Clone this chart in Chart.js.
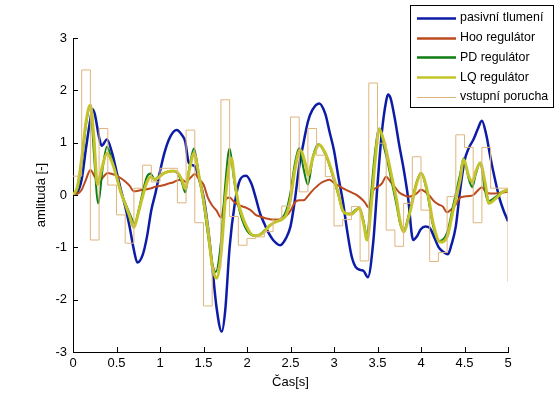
<!DOCTYPE html>
<html>
<head>
<meta charset="utf-8">
<script src="https://cdn.jsdelivr.net/npm/chart.js@4/dist/chart.umd.min.js"></script>
<style>
  html, body { margin: 0; padding: 0; background: #ffffff; }
  #wrap { width: 560px; height: 395px; position: relative; }
</style>
</head>
<body>
<div id="wrap"><canvas id="c" width="560" height="395"></canvas></div>
<script>
// ---------- data ----------
const seriesNames = ['pasivní tlumení', 'Hoo regulátor', 'PD regulátor', 'LQ regulátor', 'vstupní porucha'];
const xTickStep = 0.5;
const yTickStep = 1;

// pasivní tlumení  [time s, amplitude]
const pasivni = [[0,0],[0.05,0.05],[0.1,0.3],[0.15,0.9],[0.2,1.45],[0.225,1.64],[0.25,1.55],[0.3,1.1],[0.33,0.94],[0.39,1.06],
  [0.45,0.8],[0.5,0.45],[0.55,0.1],[0.6,-0.22],[0.65,-0.6],[0.7,-1.05],[0.74,-1.29],[0.8,-1.15],[0.85,-0.8],[0.9,-0.29],
  [0.95,0.05],[1.0,0.45],[1.05,0.8],[1.1,1.05],[1.15,1.2],[1.19,1.24],[1.25,1.15],[1.29,1.02],[1.33,0.62],[1.4,0.55],
  [1.45,0.3],[1.5,-0.03],[1.55,-0.6],[1.6,-1.35],[1.65,-2.15],[1.71,-2.61],[1.75,-2.2],[1.8,-1.0],[1.86,-0.16],[1.92,0.29],
  [1.99,0.37],[2.05,0.22],[2.1,-0.05],[2.15,-0.35],[2.2,-0.55],[2.25,-0.73],[2.3,-0.86],[2.38,-0.96],[2.45,-0.82],[2.5,-0.6],
  [2.55,-0.1],[2.6,0.55],[2.65,1.0],[2.7,1.4],[2.75,1.62],[2.83,1.75],[2.9,1.55],[2.95,1.2],[3.0,0.85],[3.05,0.35],
  [3.1,-0.1],[3.15,-0.67],[3.2,-1.15],[3.25,-1.38],[3.3,-1.43],[3.34,-1.45],[3.39,-1.57],[3.45,-0.92],[3.5,0.2],[3.55,1.2],
  [3.6,1.8],[3.62,1.92],[3.65,1.85],[3.7,1.45],[3.75,0.95],[3.8,0.5],[3.85,-0.03],[3.91,-0.86],[3.95,-0.8],[4.0,-0.65],
  [4.05,-0.6],[4.1,-0.63],[4.15,-0.8],[4.2,-0.99],[4.25,-1.08],[4.31,-1.13],[4.35,-0.95],[4.4,-0.6],[4.45,0.1],[4.5,0.65],
  [4.55,0.9],[4.6,1.05],[4.65,1.25],[4.7,1.42],[4.75,1.15],[4.8,0.7],[4.85,0.3],[4.9,-0.05],[4.95,-0.3],[5.0,-0.5]];

// Hoo regulátor
const hoo = [[0,0],[0.05,0.02],[0.1,0.1],[0.15,0.3],[0.2,0.48],[0.25,0.35],[0.3,0.25],[0.35,0.35],[0.4,0.42],[0.45,0.4],
  [0.5,0.37],[0.55,0.32],[0.6,0.26],[0.65,0.18],[0.7,0.07],[0.75,0.08],[0.8,0.1],[0.85,0.11],[0.9,0.13],[0.95,0.16],
  [1.0,0.17],[1.05,0.19],[1.1,0.22],[1.15,0.24],[1.2,0.28],[1.25,0.29],[1.3,0.25],[1.35,0.33],[1.4,0.4],[1.45,0.3],
  [1.5,0.2],[1.55,-0.05],[1.6,-0.2],[1.65,-0.3],[1.7,-0.43],[1.75,-0.1],[1.8,-0.05],[1.85,-0.13],[1.9,-0.19],[1.95,-0.22],
  [2.0,-0.25],[2.05,-0.3],[2.1,-0.38],[2.15,-0.41],[2.2,-0.44],[2.25,-0.46],[2.3,-0.47],[2.35,-0.47],[2.4,-0.44],[2.45,-0.4],
  [2.5,-0.3],[2.55,-0.14],[2.6,-0.1],[2.65,-0.1],[2.7,-0.02],[2.75,0.08],[2.8,0.16],[2.85,0.23],[2.9,0.27],[2.95,0.29],
  [3.0,0.23],[3.05,0.18],[3.1,0.13],[3.15,0.09],[3.2,0.05],[3.25,0.01],[3.3,-0.05],[3.35,-0.13],[3.4,-0.24],[3.45,0.08],
  [3.5,0.15],[3.55,0.22],[3.6,0.35],[3.65,0.25],[3.7,0.15],[3.75,0.05],[3.8,0.0],[3.85,-0.03],[3.9,-0.02],[3.95,0.03],
  [4.0,0.1],[4.05,0.06],[4.1,-0.02],[4.15,-0.12],[4.2,-0.18],[4.25,-0.22],[4.3,-0.33],[4.35,-0.27],[4.4,-0.18],[4.45,-0.05],
  [4.5,-0.03],[4.55,-0.02],[4.6,0.0],[4.65,0.08],[4.7,0.15],[4.75,0.05],[4.8,0.03],[4.85,0.03],[4.9,0.04],[4.95,0.05],[5.0,0.06]];

// PD regulátor
const pd = [[0,0],[0.05,0.1],[0.1,0.6],[0.15,1.35],[0.2,1.7],[0.24,0.8],[0.29,-0.16],[0.34,0.5],[0.39,0.92],[0.45,0.65],
  [0.5,0.35],[0.55,0.05],[0.6,-0.15],[0.65,-0.35],[0.71,-0.54],[0.76,-0.25],[0.8,0.05],[0.85,0.35],[0.89,0.41],[0.94,0.3],
  [1.0,0.38],[1.05,0.42],[1.1,0.45],[1.15,0.46],[1.2,0.42],[1.25,0.25],[1.29,0.05],[1.34,0.55],[1.39,0.89],[1.45,0.35],
  [1.5,-0.15],[1.55,-0.75],[1.6,-1.3],[1.64,-1.47],[1.7,-0.9],[1.75,0.2],[1.8,0.89],[1.85,0.3],[1.9,-0.2],[1.95,-0.5],
  [2.0,-0.68],[2.05,-0.76],[2.1,-0.78],[2.15,-0.75],[2.2,-0.68],[2.25,-0.6],[2.3,-0.54],[2.35,-0.5],[2.4,-0.45],[2.45,-0.3],
  [2.5,0.05],[2.55,0.6],[2.6,0.9],[2.65,0.5],[2.7,0.2],[2.76,0.75],[2.82,0.97],[2.9,0.78],[2.97,0.45],[3.05,0.0],
  [3.1,-0.3],[3.15,-0.36],[3.2,-0.35],[3.25,-0.28],[3.29,-0.25],[3.34,-0.5],[3.38,-0.8],[3.42,-0.1],[3.47,0.8],[3.52,1.27],
  [3.57,0.95],[3.62,0.6],[3.67,0.2],[3.72,-0.2],[3.76,-0.55],[3.8,-0.68],[3.87,-0.3],[3.95,0.25],[4.0,0.42],[4.07,0.05],
  [4.14,-0.6],[4.21,-0.88],[4.3,-0.72],[4.37,-0.2],[4.45,0.4],[4.49,0.7],[4.55,0.3],[4.59,0.15],[4.63,0.4],[4.68,0.62],
  [4.73,0.15],[4.77,-0.12],[4.87,-0.02],[4.93,0.06],[5.0,0.1]];

// LQ regulátor
const lq = [[0,0],[0.05,0.15],[0.1,0.7],[0.15,1.4],[0.2,1.72],[0.24,1.1],[0.28,0.2],[0.33,0.5],[0.39,0.8],[0.45,0.62],
  [0.5,0.35],[0.55,0.05],[0.6,-0.17],[0.65,-0.4],[0.7,-0.62],[0.75,-0.35],[0.8,-0.03],[0.85,0.25],[0.89,0.35],[0.94,0.29],
  [1.0,0.36],[1.05,0.42],[1.1,0.45],[1.15,0.46],[1.2,0.43],[1.25,0.3],[1.29,0.12],[1.34,0.5],[1.39,0.8],[1.45,0.35],
  [1.5,-0.1],[1.55,-0.65],[1.6,-1.35],[1.65,-1.59],[1.7,-1.15],[1.75,-0.1],[1.8,0.62],[1.82,0.7],[1.86,0.25],[1.9,-0.15],
  [1.95,-0.42],[2.0,-0.62],[2.05,-0.75],[2.1,-0.78],[2.15,-0.76],[2.2,-0.7],[2.25,-0.6],[2.3,-0.54],[2.35,-0.5],[2.4,-0.47],
  [2.45,-0.38],[2.5,-0.08],[2.55,0.48],[2.61,0.86],[2.67,0.6],[2.7,0.38],[2.76,0.73],[2.83,0.96],[2.9,0.8],[2.97,0.48],
  [3.05,0.03],[3.1,-0.3],[3.15,-0.36],[3.2,-0.37],[3.25,-0.3],[3.29,-0.25],[3.34,-0.54],[3.38,-0.86],[3.43,-0.16],[3.47,0.61],
  [3.52,1.26],[3.57,1.05],[3.62,0.7],[3.67,0.3],[3.72,-0.1],[3.76,-0.5],[3.8,-0.7],[3.87,-0.35],[3.95,0.22],[4.0,0.41],
  [4.07,0.1],[4.14,-0.54],[4.22,-0.9],[4.3,-0.8],[4.37,-0.29],[4.45,0.29],[4.49,0.68],[4.55,0.35],[4.59,0.25],[4.63,0.45],
  [4.68,0.61],[4.74,0.2],[4.78,-0.16],[4.87,-0.05],[4.93,0.05],[5.0,0.1]];

// vstupní porucha (held 0.1 s steps; last point = value at t = 5)
const porucha = [[0,0.36],[0.1,2.39],[0.2,-0.86],[0.3,1.27],[0.4,0.19],[0.5,-0.38],[0.6,-0.92],[0.7,0.13],[0.8,0.57],[0.9,0.25],
  [1.0,0.51],[1.1,0.51],[1.2,-0.15],[1.3,1.24],[1.4,-0.53],[1.5,-2.12],[1.6,-1.4],[1.7,1.82],[1.8,-0.41],[1.9,-0.96],
  [2.0,-0.83],[2.1,-0.8],[2.2,-0.7],[2.3,-0.45],[2.4,-0.21],[2.5,1.49],[2.6,0.06],[2.7,1.27],[2.8,0.76],[2.9,0.35],
  [3.0,-0.59],[3.1,-0.47],[3.2,-0.22],[3.3,-1.26],[3.4,2.14],[3.5,0.99],[3.6,-0.67],[3.7,-0.98],[3.8,-0.16],[3.9,0.73],
  [4.0,-0.29],[4.1,-1.27],[4.2,-1.1],[4.3,-0.03],[4.4,1.15],[4.5,0.91],[4.6,-0.53],[4.7,0.91],[4.8,0.13],[4.9,0.13],[5.0,-1.66]];

// ---------- styles ----------
const FONT = "'Liberation Sans', Arial, Helvetica, sans-serif";
const colors = ['#0c1ca6', '#bb4a1e', '#0e7d12', '#c3c32a', '#dfb57e'];
const widths = [2.5, 2, 2, 3, 1];

function lineSet(i, data, extra) {
  return Object.assign({
    label: seriesNames[i],
    data: data,
    borderColor: colors[i],
    backgroundColor: colors[i],
    borderWidth: widths[i],
    pointRadius: 0,
    fill: false,
    cubicInterpolationMode: 'monotone',
    order: 4 - i
  }, extra || {});
}

const matlabAxes = {
  id: 'matlabAxes',
  afterDraw(chart) {
    const ctx = chart.ctx, xs = chart.scales.x, ys = chart.scales.y, a = chart.chartArea;
    ctx.save();
    ctx.strokeStyle = '#000';
    ctx.lineWidth = 1;
    ctx.beginPath();
    xs.ticks.forEach(t => {
      const px = Math.round(xs.getPixelForValue(t.value)) + 0.5;
      ctx.moveTo(px, a.bottom); ctx.lineTo(px, a.bottom - 5);
    });
    ys.ticks.forEach(t => {
      const py = Math.round(ys.getPixelForValue(t.value)) + 0.5;
      ctx.moveTo(a.left, py); ctx.lineTo(a.left + 5, py);
    });
    ctx.stroke();

    // legend box (top right, overlapping the plot like the original)
    const bx = 410.5, by = 5.5, bw = 143, bh = 102;
    ctx.fillStyle = '#fff';
    ctx.fillRect(bx, by, bw, bh);
    ctx.strokeRect(bx, by, bw, bh);
    ctx.font = '12.4px ' + FONT;
    ctx.textBaseline = 'middle';
    ctx.textAlign = 'left';
    seriesNames.forEach((name, i) => {
      const yy = 18 + i * 19.7;
      ctx.strokeStyle = colors[i];
      ctx.lineWidth = widths[i] === 1 ? 1 : 2.5;
      ctx.beginPath();
      ctx.moveTo(417, Math.round(yy) + 0.5);
      ctx.lineTo(456, Math.round(yy) + 0.5);
      ctx.stroke();
      ctx.fillStyle = '#000';
      ctx.fillText(name, 460, yy);
    });
    ctx.restore();
  }
};

new Chart(document.getElementById('c'), {
  type: 'line',
  data: {
    datasets: [
      lineSet(0, pasivni),
      lineSet(1, hoo),
      lineSet(2, pd),
      lineSet(3, lq),
      lineSet(4, porucha, { stepped: true, cubicInterpolationMode: 'default', tension: 0 })
    ]
  },
  options: {
    responsive: false,
    animation: false,
    events: [],
    layout: { padding: { top: 38, right: 52, left: 0, bottom: 0 } },
    plugins: { legend: { display: false }, tooltip: { enabled: false }, title: { display: false } },
    scales: {
      x: {
        type: 'linear',
        min: 0, max: 5,
        grid: { display: false, drawTicks: false },
        border: { display: true, color: '#000', width: 1 },
        ticks: { stepSize: xTickStep, color: '#000', font: { family: FONT, size: 13 }, padding: 4, maxRotation: 0, autoSkip: false,
                 callback: v => String(Math.round(v * 10) / 10) },
        title: { display: true, text: 'Čas[s]', color: '#000', font: { family: FONT, size: 13 }, padding: { top: 0, bottom: 5 } },
        afterFit(s) { s.height = 43; }
      },
      y: {
        type: 'linear',
        min: -3, max: 3,
        grid: { display: false, drawTicks: false },
        border: { display: true, color: '#000', width: 1 },
        ticks: { stepSize: yTickStep, color: '#000', font: { family: FONT, size: 13 }, padding: 6,
                 callback: v => String(v) },
        title: { display: true, text: 'amlituda [-]', color: '#000', font: { family: FONT, size: 13 }, padding: { top: 34, bottom: 0 } },
        afterFit(s) { s.width = 73; }
      }
    }
  },
  plugins: [matlabAxes]
});
</script>
</body>
</html>
